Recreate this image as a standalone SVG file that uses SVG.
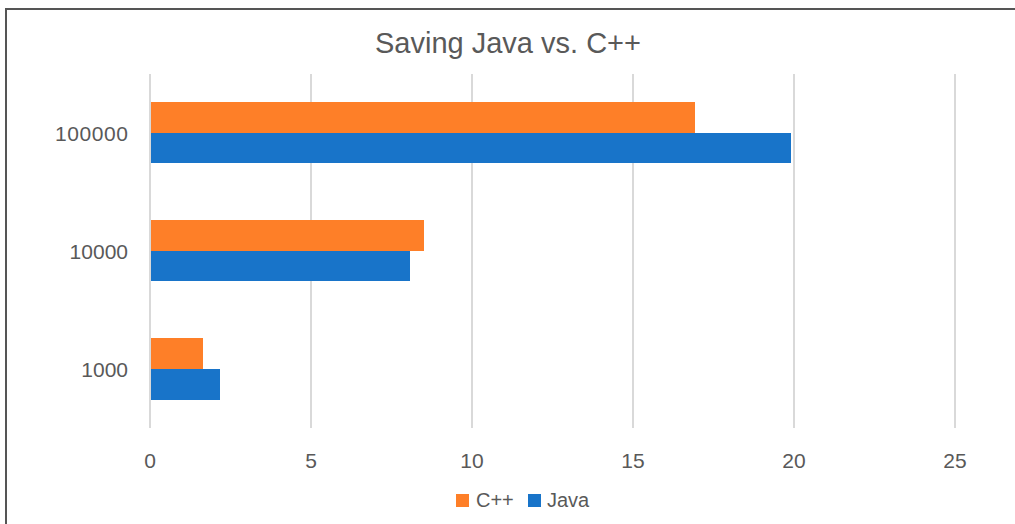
<svg xmlns="http://www.w3.org/2000/svg" width="1015" height="524" viewBox="0 0 1015 524">
<style>
.t{font-family:"Liberation Sans",Arial,sans-serif;fill:#595959}
.grid{stroke:#D9D9D9;stroke-width:2}
.cpp{fill:#FE7F28}
.java{fill:#1874C9}
</style>
<rect x="0" y="0" width="1015" height="524" fill="#FFFFFF"/>
<path d="M6 524 V9 H1015" fill="none" stroke="#555555" stroke-width="2"/>
<text class="t" x="508" y="53" font-size="29" text-anchor="middle">Saving Java vs. C++</text>
<g id="grid">
<line class="grid" x1="150" y1="74" x2="150" y2="428"/>
<line class="grid" x1="311" y1="74" x2="311" y2="428"/>
<line class="grid" x1="472" y1="74" x2="472" y2="428"/>
<line class="grid" x1="633" y1="74" x2="633" y2="428"/>
<line class="grid" x1="794" y1="74" x2="794" y2="428"/>
<line class="grid" x1="955" y1="74" x2="955" y2="428"/>
</g>
<g id="xlabels">
<text class="t" x="150" y="468" font-size="21" text-anchor="middle">0</text>
<text class="t" x="311" y="468" font-size="21" text-anchor="middle">5</text>
<text class="t" x="472" y="468" font-size="21" text-anchor="middle">10</text>
<text class="t" x="633" y="468" font-size="21" text-anchor="middle">15</text>
<text class="t" x="794" y="468" font-size="21" text-anchor="middle">20</text>
<text class="t" x="955" y="468" font-size="21" text-anchor="middle">25</text>
</g>
<g id="ylabels">
<text class="t" x="128" y="141" font-size="21" text-anchor="end" textLength="73">100000</text>
<text class="t" x="128" y="259" font-size="21" text-anchor="end">10000</text>
<text class="t" x="128" y="377" font-size="21" text-anchor="end">1000</text>
</g>
<g id="cat-100000">
<rect class="cpp" x="151" y="102" width="544" height="31"/>
<rect class="java" x="151" y="133" width="640" height="30"/>
</g>
<g id="cat-10000">
<rect class="cpp" x="151" y="220" width="273" height="31"/>
<rect class="java" x="151" y="251" width="259" height="30"/>
</g>
<g id="cat-1000">
<rect class="cpp" x="151" y="338" width="52" height="31"/>
<rect class="java" x="151" y="369" width="69" height="31"/>
</g>
<g id="legend">
<rect class="cpp" x="456" y="494" width="13" height="13"/>
<text class="t" x="476" y="507" font-size="20">C++</text>
<rect class="java" x="528" y="494" width="13" height="13"/>
<text class="t" x="547" y="507" font-size="20">Java</text>
</g>
</svg>
